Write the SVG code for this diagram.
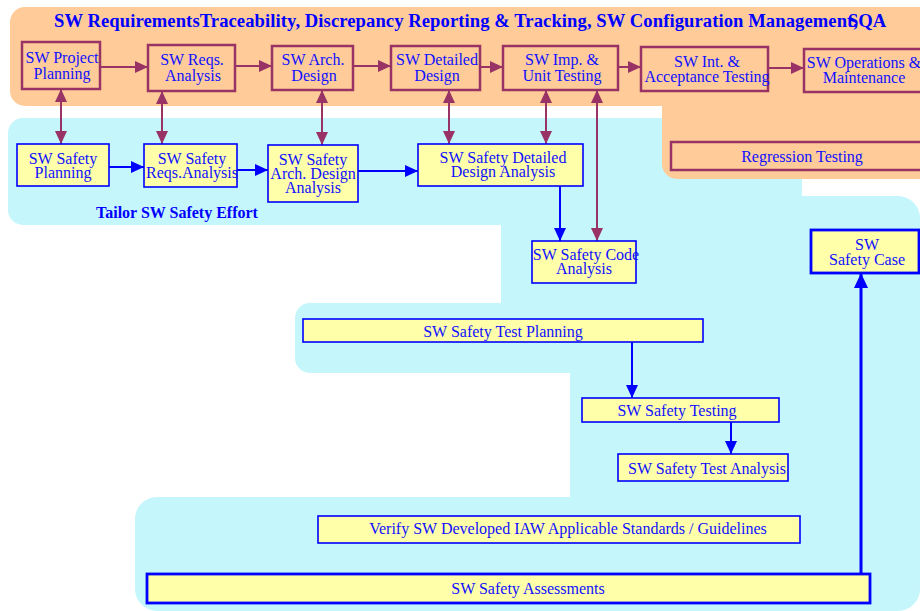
<svg xmlns="http://www.w3.org/2000/svg" width="920" height="611" viewBox="0 0 920 611">
  <style>
    text { font-family: "Liberation Serif", "Times New Roman", serif; font-size: 16px; fill: #1010ff; text-anchor: middle; }
    .title { font-size: 18.6px; font-weight: bold; fill: #0000ff; text-anchor: start; }
    .tailor { font-size: 16px; font-weight: bold; fill: #0000ff; text-anchor: start; }
    .proc { fill: none; stroke: #993366; stroke-width: 2.5; }
    .safe { fill: #ffffaa; stroke: #0000ff; stroke-width: 1.6; }
    .safe-b { fill: #ffffaa; stroke: #0000ff; stroke-width: 2.8; }
    .link-m { fill: none; stroke: #993366; stroke-width: 2; }
    .link-b { fill: none; stroke: #0000ff; stroke-width: 2; }
  </style>
  <defs>
    <marker id="head-m" markerUnits="userSpaceOnUse" markerWidth="13" markerHeight="12" refX="13" refY="6" orient="auto-start-reverse">
      <path d="M0,0 L13,6 L0,12 Z" fill="#993366"/>
    </marker>
    <marker id="head-b" markerUnits="userSpaceOnUse" markerWidth="13" markerHeight="12" refX="13" refY="6" orient="auto">
      <path d="M0,0 L13,6 L0,12 Z" fill="#0000ff"/>
    </marker>
    <marker id="head-bb" markerUnits="userSpaceOnUse" markerWidth="15" markerHeight="14" refX="15" refY="7" orient="auto">
      <path d="M0,0 L15,7 L0,14 Z" fill="#0000ff"/>
    </marker>
  </defs>

  <!-- background bands -->
  <path id="band-orange" fill="#ffcc99" d="M25,7 H920 V179 H677 A15,15 0 0 1 662,164 V106 H25 A15,15 0 0 1 10,91 V22 A15,15 0 0 1 25,7 Z"/>
  <path id="band-cyan" fill="#c4f6fc" d="M23,118 H802 V196 H898 A22,22 0 0 1 920,218 V589 A22,22 0 0 1 898,611 H157 A22,22 0 0 1 135,589 V519 A22,22 0 0 1 157,497 H570 V373 H310 A15,15 0 0 1 295,358 V318 A15,15 0 0 1 310,303 H501 V225 H23 A15,15 0 0 1 8,210 V133 A15,15 0 0 1 23,118 Z"/>
  <!-- orange band is drawn over the cyan where they meet -->
  <path fill="#ffcc99" d="M662,106 H920 V179 H677 A15,15 0 0 1 662,164 Z"/>

  <text class="title" x="54" y="27" textLength="804">SW RequirementsTraceability, Discrepancy Reporting &amp; Tracking, SW Configuration Management,</text>
  <text class="title" x="848" y="27">SQA</text>
  <text class="tailor" x="96" y="218">Tailor SW Safety Effort</text>

  <!-- connectors -->
  <g id="connectors">
    <line class="link-m" x1="100" y1="67" x2="148" y2="67" marker-end="url(#head-m)"/>
    <line class="link-m" x1="235" y1="66" x2="272" y2="66" marker-end="url(#head-m)"/>
    <line class="link-m" x1="353" y1="66" x2="391" y2="66" marker-end="url(#head-m)"/>
    <line class="link-m" x1="480" y1="67" x2="503" y2="67" marker-end="url(#head-m)"/>
    <line class="link-m" x1="618" y1="67" x2="641" y2="67" marker-end="url(#head-m)"/>
    <line class="link-m" x1="768" y1="68" x2="804" y2="68" marker-end="url(#head-m)"/>

    <line class="link-m" x1="61" y1="89" x2="61" y2="144" marker-start="url(#head-m)" marker-end="url(#head-m)"/>
    <line class="link-m" x1="162" y1="91" x2="162" y2="144" marker-start="url(#head-m)" marker-end="url(#head-m)"/>
    <line class="link-m" x1="322" y1="90" x2="322" y2="145" marker-start="url(#head-m)" marker-end="url(#head-m)"/>
    <line class="link-m" x1="449" y1="90" x2="449" y2="144" marker-start="url(#head-m)" marker-end="url(#head-m)"/>
    <line class="link-m" x1="546" y1="90" x2="546" y2="144" marker-start="url(#head-m)" marker-end="url(#head-m)"/>
    <line class="link-m" x1="597" y1="90" x2="597" y2="241" marker-start="url(#head-m)" marker-end="url(#head-m)"/>

    <line class="link-b" x1="109" y1="167" x2="144" y2="167" marker-end="url(#head-b)"/>
    <line class="link-b" x1="237" y1="170" x2="268" y2="170" marker-end="url(#head-b)"/>
    <line class="link-b" x1="358" y1="171" x2="418" y2="171" marker-end="url(#head-b)"/>
    <line class="link-b" x1="560" y1="186" x2="560" y2="241" marker-end="url(#head-b)"/>
    <line class="link-b" x1="632" y1="342" x2="632" y2="398" marker-end="url(#head-b)"/>
    <line class="link-b" x1="731" y1="422" x2="731" y2="454" marker-end="url(#head-b)"/>
    <line class="link-b" style="stroke-width:3" x1="861" y1="574" x2="861" y2="273" marker-end="url(#head-bb)"/>
  </g>

  <!-- development process -->
  <g id="proj-planning"><rect class="proc" x="22" y="42" width="78" height="47"/><text x="62" y="63">SW Project</text><text x="62" y="79">Planning</text></g>
  <g id="reqs-analysis"><rect class="proc" x="148" y="45" width="87" height="46"/><text x="192" y="65">SW Reqs.</text><text x="193" y="81">Analysis</text></g>
  <g id="arch-design"><rect class="proc" x="272" y="46" width="81" height="44"/><text x="313" y="65">SW Arch.</text><text x="314" y="81">Design</text></g>
  <g id="detailed-design"><rect class="proc" x="391" y="46" width="89" height="44"/><text x="437" y="65">SW Detailed</text><text x="437" y="81">Design</text></g>
  <g id="imp-unit-testing"><rect class="proc" x="503" y="46" width="115" height="44"/><text x="562" y="65">SW Imp. &amp;</text><text x="562" y="81">Unit Testing</text></g>
  <g id="int-acceptance"><rect class="proc" x="641" y="47" width="127" height="44"/><text x="707" y="67">SW Int. &amp;</text><text x="707" y="82">Acceptance Testing</text></g>
  <g id="operations"><rect class="proc" x="804" y="49" width="121" height="43"/><text x="864" y="68">SW Operations &amp;</text><text x="864" y="83">Maintenance</text></g>
  <g id="regression"><rect class="proc" x="671" y="142" width="264" height="28"/><text x="802" y="162">Regression Testing</text></g>

  <!-- safety activities -->
  <g id="safety-planning"><rect class="safe" x="17" y="144" width="92" height="42"/><text x="63" y="164">SW Safety</text><text x="63" y="178">Planning</text></g>
  <g id="safety-reqs"><rect class="safe" x="144" y="144" width="93" height="43"/><text x="192" y="164">SW Safety</text><text x="192" y="178">Reqs.Analysis</text></g>
  <g id="safety-arch"><rect class="safe" x="268" y="145" width="90" height="57"/><text x="313" y="165">SW Safety</text><text x="313" y="179">Arch. Design</text><text x="313" y="193">Analysis</text></g>
  <g id="safety-detailed"><rect class="safe" x="418" y="144" width="165" height="42"/><text x="503" y="163">SW Safety Detailed</text><text x="503" y="177">Design Analysis</text></g>
  <g id="safety-code"><rect class="safe" x="532" y="241" width="104" height="42"/><text x="586" y="260">SW Safety Code</text><text x="584" y="274">Analysis</text></g>
  <g id="safety-case"><rect class="safe-b" x="811" y="230" width="108" height="43"/><text x="867" y="250">SW</text><text x="867" y="265">Safety Case</text></g>
  <g id="test-planning"><rect class="safe" x="303" y="319" width="400" height="23"/><text x="503" y="337">SW Safety Test Planning</text></g>
  <g id="safety-testing"><rect class="safe" x="582" y="398" width="197" height="24"/><text x="677" y="416">SW Safety Testing</text></g>
  <g id="test-analysis"><rect class="safe" x="618" y="454" width="170" height="27"/><text x="707" y="474">SW Safety Test Analysis</text></g>
  <g id="verify"><rect class="safe" x="318" y="516" width="482" height="27"/><text x="568" y="534">Verify SW Developed IAW Applicable Standards / Guidelines</text></g>
  <g id="assessments"><rect class="safe-b" x="147" y="574" width="723" height="29"/><text x="528" y="594">SW Safety Assessments</text></g>
</svg>
